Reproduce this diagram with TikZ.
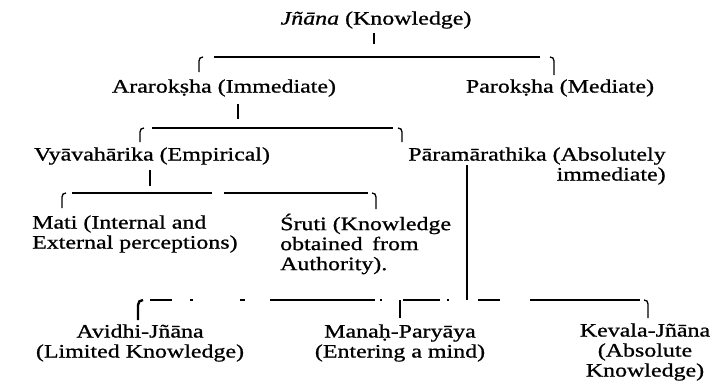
\documentclass[tikz,border=0pt]{standalone}
\usepackage{fontspec}
\setmainfont{Liberation Serif}[FakeStretch=1.26,FakeBold=0.9]
\begin{document}
\begin{tikzpicture}[x=1pt,y=-1pt,
  every node/.style={inner sep=0pt, font=\fontsize{19}{20}\selectfont},
  ln/.style={line width=1.1pt},
  hk/.style={line width=1.3pt},
  thk/.style={line width=2.4pt}]
\useasboundingbox (0,0) rectangle (719,384);

% ---- nodes
\node (jnana) at (376,20) {\textit{Jñāna} (Knowledge)};
\node (apar) at (224,88) {Ararokṣha (Immediate)};
\node (paro) at (560,88) {Parokṣha (Mediate)};
\node (vyav) at (152,156) {Vyāvahārika (Empirical)};
\node[align=right] (param) at (537,166) {Pāramārathika (Absolutely\\immediate)};
\node[align=left, anchor=west] (mati) at (32,234) {Mati (Internal and\\External perceptions)};
\node[align=left, anchor=west] (sruti) at (280,244) {Śruti (Knowledge\\obtained\hspace{0.5em}from\\Authority).};
\node[align=center] (avidhi) at (140,343) {Avidhi-Jñāna\\(Limited Knowledge)};
\node[align=center] (manah) at (400,343) {Manaḥ-Paryāya\\(Entering a mind)};
\node[align=center] (kevala) at (645,352) {Kevala-Jñāna\\(Absolute\\Knowledge)};

% ---- level 1
\coordinate (t0a) at (374,33); \coordinate (t0b) at (374,44);
\coordinate (h1l) at (199,57); \coordinate (l1s) at (214,57);
\coordinate (l1e) at (540,57); \coordinate (h1r) at (554,57);
\draw[ln] (t0a) -- (t0b);
\draw[ln] (l1s) -- (l1e);
\draw[hk] (h1l) ++(0,15) -- ++(0,-11) .. controls +(0,-2.5) and +(-2.5,0) .. ++(4,-4);
\draw[hk] (h1r) ++(0,18) -- ++(0,-14) .. controls +(0,-2.5) and +(2.5,0) .. ++(-4,-4);

% ---- level 2
\coordinate (t1a) at (238,104); \coordinate (t1b) at (238,119);
\coordinate (h2l) at (140,128); \coordinate (l2s) at (152,128);
\coordinate (l2e) at (393,128); \coordinate (h2r) at (402,128);
\draw[ln] (t1a) -- (t1b);
\draw[ln] (l2s) -- (l2e);
\draw[hk] (h2l) ++(0,14) -- ++(0,-10) .. controls +(0,-2.5) and +(-2.5,0) .. ++(4,-4);
\draw[hk] (h2r) ++(0,14) -- ++(0,-10) .. controls +(0,-2.5) and +(2.5,0) .. ++(-4,-4);

% ---- level 3
\coordinate (t2a) at (150,170); \coordinate (t2b) at (150,186);
\coordinate (h3l) at (62,193); \coordinate (l3s) at (72,193);
\coordinate (l3e) at (368,193); \coordinate (h3r) at (376,193);
\draw[ln] (t2a) -- (t2b);
\draw[ln, dash pattern=on 140pt off 12pt on 200pt] (l3s) -- (l3e);
\draw[hk] (h3l) ++(0,15) -- ++(0,-11) .. controls +(0,-2.5) and +(-2.5,0) .. ++(4,-4);
\draw[hk] (h3r) ++(0,16) -- ++(0,-12) .. controls +(0,-2.5) and +(2.5,0) .. ++(-4,-4);

% ---- Paramarathika branch
\coordinate (pv) at (467,165); \coordinate (pb) at (467,300);
\draw[ln] (pv) -- (pb);
\coordinate (h4l) at (138,300); \coordinate (l4s) at (150,300);
\coordinate (l4e) at (640,300); \coordinate (h4r) at (648,300);
\coordinate (mt) at (400,300); \coordinate (mtb) at (400,318);
\draw[ln, dash pattern=on 22pt off 18pt on 3pt off 47pt on 5pt off 25pt on 105pt off 5pt on 2pt off 21pt on 37pt off 7pt on 2pt off 29pt on 22pt off 30pt on 110pt off 100pt] (l4s) -- (l4e);
\draw[thk] (h4l) ++(0,20) -- ++(0,-15) .. controls +(0,-3) and +(-3,0) .. ++(5,-5);
\draw[thk] (mt) -- (mtb);
\draw[hk] (h4r) ++(0,18) -- ++(0,-14) .. controls +(0,-2.5) and +(2.5,0) .. ++(-4,-4);
\end{tikzpicture}
\end{document}
